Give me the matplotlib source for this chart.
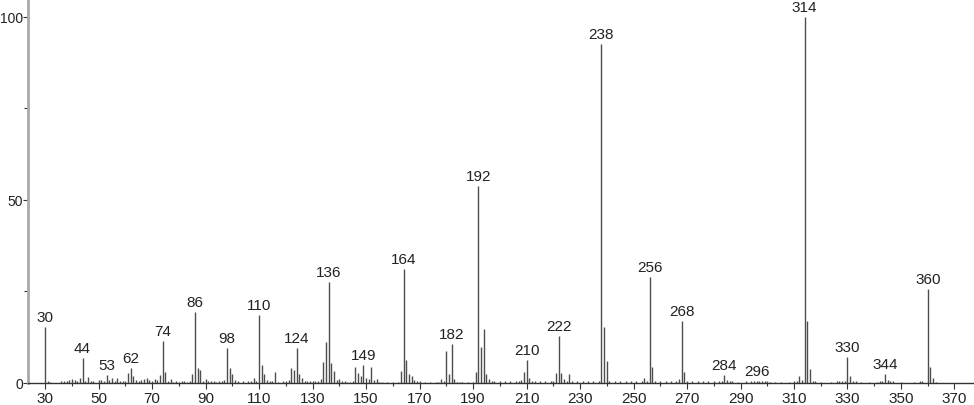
import matplotlib
matplotlib.use("Agg")
import matplotlib.pyplot as plt
from matplotlib.ticker import MultipleLocator

plt.rcParams["font.family"] = ["Liberation Sans", "DejaVu Sans"]

# (m/z, relative intensity %), split by mass range
peaks_30_100 = [(30, 15.3), (31, 0.5), (32, 0.3), (36, 0.5), (37, 0.6), (38, 0.5),
                (39, 0.8), (40, 1.2), (41, 0.8), (42, 0.5), (43, 1.3), (44, 6.8),
                (45, 0.5), (46, 1.7), (47, 0.5), (48, 0.5), (50, 0.7), (51, 0.7),
                (52, 0.5), (53, 2.2), (54, 0.7), (55, 1.4), (56, 0.5), (57, 1.5),
                (58, 0.5), (59, 0.5), (60, 0.5), (61, 2.6), (62, 4.1), (63, 2.0),
                (64, 0.7), (65, 0.5), (66, 0.8), (67, 1.2), (68, 1.4), (69, 0.8),
                (70, 0.5), (71, 1.2), (72, 0.8), (73, 2.3), (74, 11.5), (75, 3.0),
                (76, 0.6), (77, 1.2), (78, 0.4), (79, 0.6), (80, 0.4), (81, 0.5),
                (82, 0.5), (83, 0.4), (84, 0.6), (85, 2.5), (86, 19.4), (87, 4.2),
                (88, 3.5), (89, 0.5), (90, 1.0), (91, 0.6), (92, 0.5), (93, 0.5),
                (94, 0.4), (95, 0.5), (96, 0.5), (97, 0.7), (98, 9.6), (99, 4.1),
                (100, 2.5)]
peaks_101_200 = [(101, 0.8), (102, 0.5), (104, 0.5), (106, 0.5), (107, 0.5),
                 (108, 1.5), (109, 0.6), (110, 18.6), (111, 5.0), (112, 2.5),
                 (113, 0.8), (114, 0.6), (115, 0.6), (116, 3.0), (117, 0.4),
                 (119, 0.5), (120, 0.6), (121, 0.8), (122, 4.0), (123, 3.5),
                 (124, 9.6), (125, 2.5), (126, 1.3), (127, 0.5), (128, 0.5),
                 (129, 0.5), (130, 0.5), (131, 0.5), (132, 0.5), (133, 1.0),
                 (134, 5.7), (135, 11.2), (136, 27.6), (137, 5.5), (138, 3.2),
                 (139, 0.8), (140, 1.0), (141, 0.6), (142, 0.5), (143, 0.4),
                 (144, 0.4), (145, 0.5), (146, 4.5), (147, 2.6), (148, 2.0),
                 (149, 4.9), (150, 1.5), (151, 1.0), (152, 4.3), (153, 0.7),
                 (154, 1.0), (155, 0.4), (156, 0.4), (158, 0.4), (160, 0.4),
                 (162, 0.4), (163, 3.3), (164, 31.1), (165, 6.3), (166, 2.5),
                 (167, 2.0), (168, 0.8), (169, 0.5), (170, 0.5), (172, 0.4),
                 (174, 0.4), (176, 0.4), (177, 0.4), (178, 1.2), (179, 0.5),
                 (180, 8.7), (181, 2.5), (182, 10.7), (183, 1.2), (184, 0.4),
                 (185, 0.4), (186, 0.4), (188, 0.4), (190, 0.4), (191, 3.0),
                 (192, 53.8), (193, 9.8), (194, 14.8), (195, 2.5), (196, 1.2),
                 (197, 0.6), (198, 0.5), (200, 0.5)]
peaks_201_300 = [(202, 0.5), (204, 0.5), (206, 0.5), (207, 0.5), (208, 0.8),
                 (209, 3.0), (210, 6.3), (211, 1.3), (212, 0.6), (213, 0.5),
                 (215, 0.5), (217, 0.5), (219, 0.5), (220, 0.5), (221, 2.6),
                 (222, 12.8), (223, 2.6), (224, 1.0), (225, 0.5), (226, 2.4),
                 (227, 0.5), (229, 0.5), (231, 0.5), (233, 0.5), (235, 0.5),
                 (237, 0.5), (238, 92.6), (239, 15.3), (240, 6.0), (241, 0.6),
                 (243, 0.5), (245, 0.5), (247, 0.5), (249, 0.5), (251, 0.5),
                 (253, 0.5), (254, 1.5), (255, 0.5), (256, 29.0), (257, 4.5),
                 (258, 0.6), (260, 0.5), (262, 0.5), (264, 0.5), (266, 0.5),
                 (267, 1.0), (268, 16.9), (269, 3.0), (270, 0.6), (272, 0.5),
                 (274, 0.5), (276, 0.5), (278, 0.5), (280, 0.5), (282, 0.5),
                 (283, 0.5), (284, 2.2), (285, 0.7), (286, 0.5), (287, 0.5),
                 (289, 0.4), (292, 0.5), (294, 0.5), (295, 0.5), (296, 0.6),
                 (297, 0.5), (298, 0.5), (299, 0.5), (300, 0.5)]
peaks_301_370 = [(301, 0.4), (303, 0.4), (305, 0.4), (308, 0.4), (310, 0.5),
                 (311, 0.5), (312, 2.0), (313, 0.7), (314, 100.0), (315, 17.0),
                 (316, 3.8), (317, 0.6), (318, 0.6), (320, 0.4), (324, 0.4),
                 (326, 0.5), (327, 0.5), (328, 0.5), (329, 0.6), (330, 7.1),
                 (331, 1.8), (332, 0.6), (333, 0.5), (335, 0.4), (338, 0.4),
                 (341, 0.4), (342, 0.6), (343, 0.6), (344, 2.5), (345, 0.7),
                 (346, 0.5), (347, 0.5), (350, 0.4), (355, 0.4), (357, 0.6),
                 (358, 0.6), (360, 25.7), (361, 4.3), (362, 1.5), (363, 0.4)]

# peaks that carry an m/z label
labelled = [30, 44, 53, 62, 74, 86, 98, 110, 124, 136, 149, 164, 182, 192, 210, 222,
            238, 256, 268, 284, 296, 314, 330, 344, 360]

spectrum = peaks_30_100 + peaks_101_200 + peaks_201_300 + peaks_301_370
mz = [p[0] for p in spectrum]
intensity = [p[1] for p in spectrum]

fig = plt.figure(figsize=(9.74, 4.06), dpi=100)
ax = fig.add_axes([28 / 974, 22 / 406, 1 - 28 / 974, 1 - 22 / 406])

ax.vlines(mz, 0, intensity, colors="#4d4d4d", linewidth=1.0)

lookup = dict(spectrum)
for m in labelled:
    ax.annotate(str(m), (m, lookup[m]), xytext=(0, 2), textcoords="offset points",
                ha="center", va="bottom", fontsize=11, color="#222222")

ax.set_xlim(23.6, 377.3)
ax.set_ylim(0, 104.9)

ax.set_xticks(range(30, 371, 20))
ax.xaxis.set_minor_locator(MultipleLocator(10))
ax.yaxis.set_major_locator(MultipleLocator(50))
ax.yaxis.set_minor_locator(MultipleLocator(25))

ax.tick_params(axis="x", which="major", length=4, width=0.8, color="#333333",
               labelsize=11, pad=2, labelcolor="#222222")
ax.tick_params(axis="x", which="minor", length=2, width=0.8, color="#333333")
ax.tick_params(axis="y", which="major", length=3.5, width=0.8, color="#333333",
               labelsize=10, pad=0, labelcolor="#222222")
ax.tick_params(axis="y", which="minor", length=3, width=0.8, color="#333333")

for side in ["top", "right"]:
    ax.spines[side].set_visible(False)
ax.spines["left"].set_color("#aaaaaa")
ax.spines["left"].set_linewidth(2)
ax.spines["bottom"].set_color("#333333")
ax.spines["bottom"].set_linewidth(1)

fig.savefig("out.png", dpi=100)
